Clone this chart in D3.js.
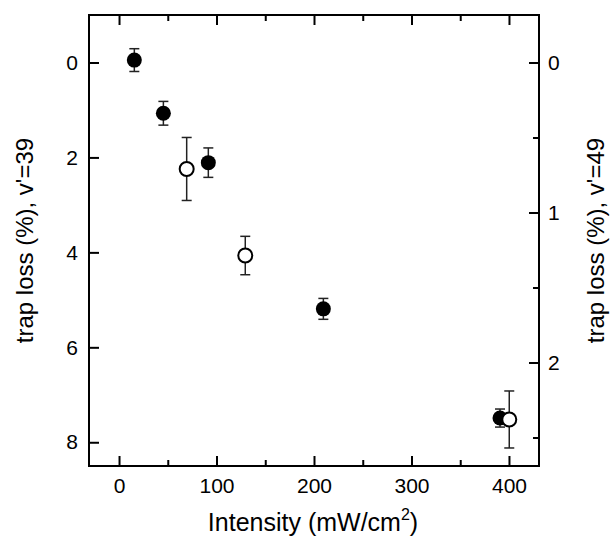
<!DOCTYPE html>
<html><head><meta charset="utf-8">
<script src="https://cdn.jsdelivr.net/npm/d3@7"></script>
<style>body{margin:0;background:#fff}svg{display:block}text{font-family:"Liberation Sans",Arial,sans-serif}</style>
</head><body>
<svg id="c" width="610" height="541"></svg>
<script>
// v'=39 (left axis, filled)
const filledX = [15.7, 45.5, 91.6, 209.6, 390.8];
const filledY = [-0.05, 1.07, 2.11, 5.19, 7.49];
const filledErr = [0.24, 0.25, 0.31, 0.22, 0.19];
// v'=49 (right axis, open)
const openX = [69.4, 129.5, 400.3];
const openY = [0.71, 1.287, 2.38];
const openErr = [0.21, 0.128, 0.19];
const xTicks = [0, 100, 200, 300, 400];
const xMinor = [50, 150, 250, 350];
const yLTicks = [0, 2, 4, 6, 8];
const yRTicks = [0, 1, 2];
const yRMinor = [0.5, 1.5, 2.5];

const L = 89, T = 15, W = 450, H = 451;
const svg = d3.select("#c");
const x = d3.scaleLinear().domain([-30.8, 430.8]).range([L, L + W]);
const yL = d3.scaleLinear().domain([-1, 8.5]).range([T, T + H]);
const k = (H / 9.5) / 150;
const yR = d3.scaleLinear().domain([-1 * k, 8.5 * k]).range([T, T + H]);

function style(g) {
  g.select(".domain").remove();
  g.selectAll(".tick line").attr("stroke", "#000").attr("stroke-width", 2);
  g.selectAll(".tick text").attr("fill", "#000").style("font-size", "21px");
}
// bottom
svg.append("g").attr("transform", `translate(0,${T + H})`)
  .call(d3.axisBottom(x).tickValues(xTicks).tickSize(-10).tickPadding(12).tickFormat(d3.format("d"))).call(style);
svg.append("g").attr("transform", `translate(0,${T + H})`)
  .call(d3.axisBottom(x).tickValues(xMinor).tickSize(-6).tickFormat("")).call(style);
// top
svg.append("g").attr("transform", `translate(0,${T})`)
  .call(d3.axisTop(x).tickValues(xTicks).tickSize(-10).tickFormat("")).call(style);
svg.append("g").attr("transform", `translate(0,${T})`)
  .call(d3.axisTop(x).tickValues(xMinor).tickSize(-6).tickFormat("")).call(style);
// left
svg.append("g").attr("transform", `translate(${L},0)`)
  .call(d3.axisLeft(yL).tickValues(yLTicks).tickSize(-10).tickPadding(11).tickFormat(d3.format("d"))).call(style);
// right
svg.append("g").attr("transform", `translate(${L + W},0)`)
  .call(d3.axisRight(yR).tickValues(yRTicks).tickSize(-10).tickPadding(9).tickFormat(d3.format("d"))).call(style);
svg.append("g").attr("transform", `translate(${L + W},0)`)
  .call(d3.axisRight(yR).tickValues(yRMinor).tickSize(-6).tickFormat("")).call(style);

svg.append("rect").attr("x", L).attr("y", T).attr("width", W).attr("height", H)
  .attr("fill", "none").attr("stroke", "#000").attr("stroke-width", 2);

function errBars(xs, ys, es, ys_scale) {
  const g = svg.append("g").attr("stroke", "#222").attr("stroke-width", 1.5);
  xs.forEach((xv, i) => {
    const cx = x(xv), y1 = ys_scale(ys[i] - es[i]), y2 = ys_scale(ys[i] + es[i]);
    g.append("line").attr("x1", cx).attr("x2", cx).attr("y1", y1).attr("y2", y2);
    g.append("line").attr("x1", cx - 5).attr("x2", cx + 5).attr("y1", y1).attr("y2", y1);
    g.append("line").attr("x1", cx - 5).attr("x2", cx + 5).attr("y1", y2).attr("y2", y2);
  });
}
errBars(filledX, filledY, filledErr, yL);
errBars(openX, openY, openErr, yR);

svg.append("g").selectAll("circle").data(filledX).join("circle")
  .attr("cx", d => x(d)).attr("cy", (d, i) => yL(filledY[i])).attr("r", 7.5).attr("fill", "#000");
svg.append("g").selectAll("circle").data(openX).join("circle")
  .attr("cx", d => x(d)).attr("cy", (d, i) => yR(openY[i])).attr("r", 7)
  .attr("fill", "#fff").attr("stroke", "#000").attr("stroke-width", 2);

// titles
const xt = svg.append("text").attr("x", L + W / 2 - 1).attr("y", 531).attr("text-anchor", "middle")
  .style("font-size", "25px").attr("fill", "#000");
xt.append("tspan").text("Intensity (mW/cm");
xt.append("tspan").text("2").attr("dy", -11).style("font-size", "16px");
xt.append("tspan").text(")").attr("dy", 11);

svg.append("text").attr("transform", `translate(33,${T + H / 2}) rotate(-90)`).attr("text-anchor", "middle")
  .style("font-size", "24px").attr("fill", "#000").text("trap loss (%), v'=39");
svg.append("text").attr("transform", `translate(604,${T + H / 2}) rotate(-90)`).attr("text-anchor", "middle")
  .style("font-size", "24px").attr("fill", "#000").text("trap loss (%), v'=49");
</script>
</body></html>
